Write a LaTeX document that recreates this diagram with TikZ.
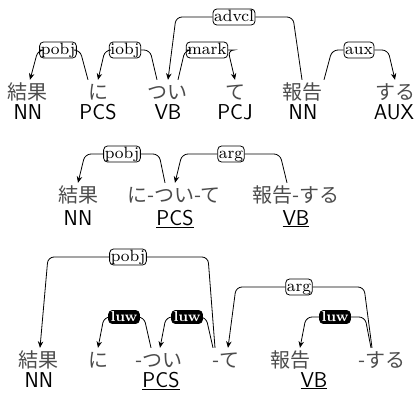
\documentclass[tikz,border=0pt]{standalone}
\usepackage{fontspec}
\usepackage{graphicx}
\newfontfamily\jpfont{Noto Sans CJK JP}
\usetikzlibrary{calc,arrows.meta}
\newcommand{\lbltext}[1]{\scalebox{2.05}{\fontsize{8}{8}\selectfont #1}}
\newcommand{\luwtext}[1]{\scalebox{1.8}{\fontsize{8}{8}\selectfont\bfseries #1}}
\tikzset{
  wrd/.style={font=\jpfont\fontsize{20}{20}\selectfont, text=black!70, inner sep=0pt, text height=19pt, text depth=4pt, anchor=base},
  tag/.style={font=\sffamily\fontsize{21.5}{21.5}\selectfont, inner sep=0pt, anchor=base},
  lab/.style={draw, fill=white, rounded corners=4pt, inner xsep=1.2pt, inner ysep=0.6pt, text height=11.6pt, text depth=3.3pt, line width=0.8pt},
  luwlab/.style={draw, fill=black, text=white, rounded corners=4pt, inner xsep=2pt, inner ysep=1.5pt, line width=0.8pt},
  dep/.style={line width=0.8pt, rounded corners=6pt},
  arr/.style={dep, -{Stealth[length=6.5pt,width=5.5pt]}},
}
\begin{document}
\begin{tikzpicture}[x=1pt,y=-1pt]
\useasboundingbox (0,0) rectangle (418,392);
% ---------- row 1 ----------
\node[wrd] (k1) at (28,99) {結果};
\node[wrd] (n1) at (98,99) {に};
\node[wrd] (t1) at (167,99) {つい};
\node[wrd] (te1) at (235,99) {て};
\node[wrd] (h1) at (302,99) {報告};
\node[wrd] (s1) at (395,99) {する};
\node[tag] (g11) at (28,119) {NN};
\node[tag] (g12) at (98,119) {PCS};
\node[tag] (g13) at (168,119) {VB};
\node[tag] (g14) at (235,119) {PCJ};
\node[tag] (g15) at (303,119) {NN};
\node[tag] (g16) at (394,119) {AUX};
\node[lab] (L11) at (58,50) {\lbltext{pobj}};
\node[lab] (L12) at (125,50) {\lbltext{iobj}};
\node[lab] (L13) at (207,50) {\lbltext{mark}};
\node[lab] (L14) at (234,17) {\lbltext{advcl}};
\node[lab] (L15) at (359,50) {\lbltext{aux}};
\draw[dep] ($(n1.north)+(-10,0)$) -- ($(n1.north|-L11)+(-18,0)$) -- (L11.east);
\draw[arr] (L11.west) -- ($(k1.north|-L11)+(10,0)$) -- ($(k1.north)+(2,0)$);
\draw[dep] ($(t1.north)+(-10,0)$) -- ($(t1.north|-L12)+(-17,0)$) -- (L12.east);
\draw[arr] (L12.west) -- ($(n1.north|-L12)+(7,0)$) -- ($(n1.north)+(0,0)$);
\draw[dep] ($(t1.north)+(11,0)$) -- ($(t1.north|-L13)+(18,0)$) -- (L13.west);
\draw[arr] (L13.east) -- ($(te1.north|-L13)+(-7,0)$) -- ($(te1.north)+(0,0)$);
\draw[dep] ($(h1.north)+(0,0)$) -- ($(h1.north|-L14)+(-9,0)$) -- (L14.east);
\draw[arr] (L14.west) -- ($(t1.north|-L14)+(9,0)$) -- ($(t1.north)+(1,0)$);
\draw[dep] ($(h1.north)+(22,0)$) -- ($(h1.north|-L15)+(30,0)$) -- (L15.west);
\draw[arr] (L15.east) -- ($(s1.north|-L15)+(-7,0)$) -- ($(s1.north)+(0,0)$);
% ---------- row 2 ----------
\node[wrd] (k2) at (78,202) {結果};
\node[wrd] (nt2) at (174,202) {に-つい-て};
\node[wrd] (hs2) at (296,202) {報告-する};
\node[tag] (g21) at (78,225) {NN};
\node[tag] (g22) at (175,225) {\underline{PCS}};
\node[tag] (g23) at (296,225) {\underline{VB}};
\node[lab] (L21) at (122,154) {\lbltext{pobj}};
\node[lab] (L22) at (231,154) {\lbltext{arg}};
\draw[dep] ($(nt2.north)+(-9,0)$) -- ($(nt2.north|-L21)+(-15,0)$) -- (L21.east);
\draw[arr] (L21.west) -- ($(k2.north|-L21)+(7,0)$) -- ($(k2.north)+(0,0)$);
\draw[dep] ($(hs2.north)+(-9,0)$) -- ($(hs2.north|-L22)+(-16,0)$) -- (L22.east);
\draw[arr] (L22.west) -- ($(nt2.north|-L22)+(8,0)$) -- ($(nt2.north)+(1,0)$);
% ---------- row 3 ----------
\node[wrd] (k3) at (39,367) {結果};
\node[wrd] (n3) at (98,367) {に};
\node[wrd] (t3) at (159,367) {-つい};
\node[wrd] (te3) at (226,367) {-て};
\node[wrd] (h3) at (290,367) {報告};
\node[wrd] (s3) at (382,367) {-する};
\node[tag] (g31) at (39,387) {NN};
\node[tag] (g32) at (161,387) {\underline{PCS}};
\node[tag] (g33) at (314,387) {\underline{VB}};
\node[lab] (L31) at (128,257) {\lbltext{pobj}};
\node[luwlab] (L32) at (124,317) {\luwtext{luw}};
\node[luwlab] (L33) at (187,317) {\luwtext{luw}};
\node[lab] (L34) at (299,287) {\lbltext{arg}};
\node[luwlab] (L35) at (335,317) {\luwtext{luw}};
\draw[dep] ($(te3.north)+(-11,0)$) -- ($(te3.north|-L31)+(-18,0)$) -- (L31.east);
\draw[arr] (L31.west) -- ($(k3.north|-L31)+(9,0)$) -- ($(k3.north)+(1,0)$);
\draw[dep] ($(t3.north)+(-8,0)$) -- ($(t3.north|-L32)+(-15,0)$) -- (L32.east);
\draw[arr] (L32.west) -- ($(n3.north|-L32)+(6,0)$) -- ($(n3.north)+(0,0)$);
\draw[dep] ($(te3.north)+(-13,0)$) -- ($(te3.north|-L33)+(-20,0)$) -- (L33.east);
\draw[arr] (L33.west) -- ($(t3.north|-L33)+(7,0)$) -- ($(t3.north)+(1,0)$);
\draw[dep] ($(s3.north)+(-10,0)$) -- ($(s3.north|-L34)+(-18,0)$) -- (L34.east);
\draw[arr] (L34.west) -- ($(te3.north|-L34)+(10,0)$) -- ($(te3.north)+(2,0)$);
\draw[dep] ($(s3.north)+(-11,0)$) -- ($(s3.north|-L35)+(-17,0)$) -- (L35.east);
\draw[arr] (L35.west) -- ($(h3.north|-L35)+(16,0)$) -- ($(h3.north)+(10,0)$);
\end{tikzpicture}
\end{document}
